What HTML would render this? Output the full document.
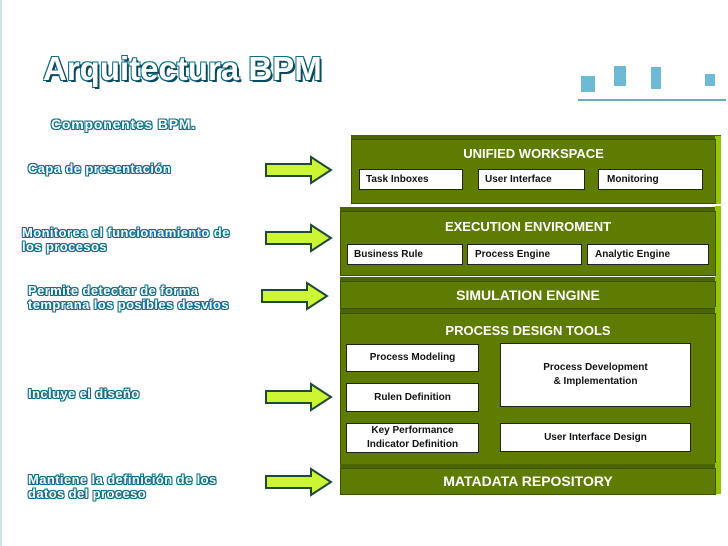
<!DOCTYPE html>
<html><head><meta charset="utf-8"><style>
body{margin:0;width:728px;height:546px;background:#fff;position:relative;overflow:hidden;font-family:"Liberation Sans",sans-serif}
.o{position:absolute;color:#fff;font-weight:bold;text-shadow:-1px -1px 0 #0b6e8a,1px -1px 0 #0b6e8a,-1px 1px 0 #0b6e8a,1px 1px 0 #0b6e8a,0 1px 0 #0b6e8a,1px 0 0 #0b6e8a,-1px 0 0 #0b6e8a,0 -1px 0 #0b6e8a}
.l{font-size:13px;line-height:14px;letter-spacing:0.4px}
.f{position:absolute;background:#5e7c02;border:1px solid #3b5200;box-sizing:border-box;color:#fff;font-weight:bold;text-align:center}
.s{position:absolute;background:#93c400}
.t{position:absolute;background:#4a6400}
.b{position:absolute;background:#fff;border:1px solid #222;box-sizing:border-box;font-size:10px;font-weight:bold;color:#111;display:flex;align-items:center;justify-content:center;text-align:center;line-height:14px}
</style></head><body>
<div style="position:absolute;left:0;top:0;width:2px;height:546px;background:#cfe3ea"></div>
<div class="o" style="left:43px;top:50px;font-size:33px;text-shadow:2px 2px 0 #0b4a5e,-1px -1px 0 #0b6e8a,1px -1px 0 #0b6e8a,-1px 1px 0 #0b6e8a,1px 1px 0 #0b6e8a">Arquitectura BPM</div>
<div class="o" style="left:51px;top:116px;font-size:14px;letter-spacing:0.8px">Componentes BPM.</div>
<div class="o l" style="left:28px;top:162px">Capa de presentación</div>
<div class="o l" style="left:22px;top:226px;width:225px">Monitorea el funcionamiento de los procesos</div>
<div class="o l" style="left:28px;top:284px;width:215px">Permite detectar de forma temprana los posibles desvíos</div>
<div class="o l" style="left:28px;top:387px">Incluye el diseño</div>
<div class="o l" style="left:28px;top:473px;width:205px">Mantiene la definición de los datos del proceso</div>
<svg style="position:absolute;left:0;top:0" width="728" height="546">
<defs><polygon id="ar" points="0,-6 45,-6 45,-13 65,0 45,13 45,6 0,6" fill="#ccf533" stroke="#1f4a3a" stroke-width="2"/></defs>
<use href="#ar" x="266" y="170"/><use href="#ar" x="266" y="238"/><use href="#ar" x="262" y="296"/><use href="#ar" x="266" y="397"/><use href="#ar" x="266" y="482"/>
<g fill="#48aacb" opacity="0.8"><rect x="581" y="76" width="14" height="16"/><rect x="614" y="66" width="12" height="20"/><rect x="651" y="67" width="10" height="22"/><rect x="705" y="74" width="10" height="12"/></g>
<rect x="578" y="99" width="148" height="2" fill="#2a8aa5" opacity="0.7"/>
</svg>
<div class="t" style="left:351px;top:135px;width:370px;height:5px"></div>
<div class="s" style="left:715px;top:136px;width:6px;height:68px"></div>
<div class="f" style="left:351px;top:139px;width:365px;height:65px;font-size:13px;padding-top:6px">UNIFIED WORKSPACE</div>
<div class="b" style="left:359px;top:169px;width:104px;height:21px;justify-content:flex-start;padding-left:6px">Task Inboxes</div>
<div class="b" style="left:478px;top:169px;width:107px;height:21px;justify-content:flex-start;padding-left:6px">User Interface</div>
<div class="b" style="left:598px;top:169px;width:105px;height:21px;justify-content:flex-start;padding-left:8px">Monitoring</div>
<div class="t" style="left:340px;top:207px;width:381px;height:5px"></div>
<div class="s" style="left:715px;top:206px;width:6px;height:70px"></div>
<div class="f" style="left:340px;top:211px;width:376px;height:65px;font-size:13px;padding-top:7px">EXECUTION ENVIROMENT</div>
<div class="b" style="left:347px;top:244px;width:116px;height:21px;justify-content:flex-start;padding-left:6px">Business Rule</div>
<div class="b" style="left:467px;top:244px;width:115px;height:21px;justify-content:flex-start;padding-left:7px">Process Engine</div>
<div class="b" style="left:587px;top:244px;width:122px;height:21px;justify-content:flex-start;padding-left:7px">Analytic Engine</div>
<div class="t" style="left:340px;top:277px;width:381px;height:5px"></div>
<div class="s" style="left:715px;top:276px;width:6px;height:32px"></div>
<div class="f" style="left:340px;top:281px;width:376px;height:28px;font-size:14px;line-height:26px">SIMULATION ENGINE</div>
<div class="t" style="left:340px;top:309px;width:381px;height:5px"></div>
<div class="s" style="left:715px;top:307px;width:6px;height:160px"></div>
<div class="f" style="left:340px;top:313px;width:376px;height:155px;font-size:13px;padding-top:9px">PROCESS DESIGN TOOLS</div>
<div class="b" style="left:346px;top:344px;width:133px;height:28px">Process Modeling</div>
<div class="b" style="left:346px;top:383px;width:133px;height:29px">Rulen Definition</div>
<div class="b" style="left:346px;top:423px;width:133px;height:30px">Key Performance<br>Indicator Definition</div>
<div class="b" style="left:500px;top:343px;width:191px;height:64px">Process Development<br>&amp; Implementation</div>
<div class="b" style="left:500px;top:423px;width:191px;height:29px">User Interface Design</div>
<div class="t" style="left:340px;top:464px;width:381px;height:5px"></div>
<div class="s" style="left:715px;top:463px;width:6px;height:31px"></div>
<div class="f" style="left:340px;top:468px;width:376px;height:27px;font-size:14px;line-height:25px">MATADATA REPOSITORY</div>
</body></html>
